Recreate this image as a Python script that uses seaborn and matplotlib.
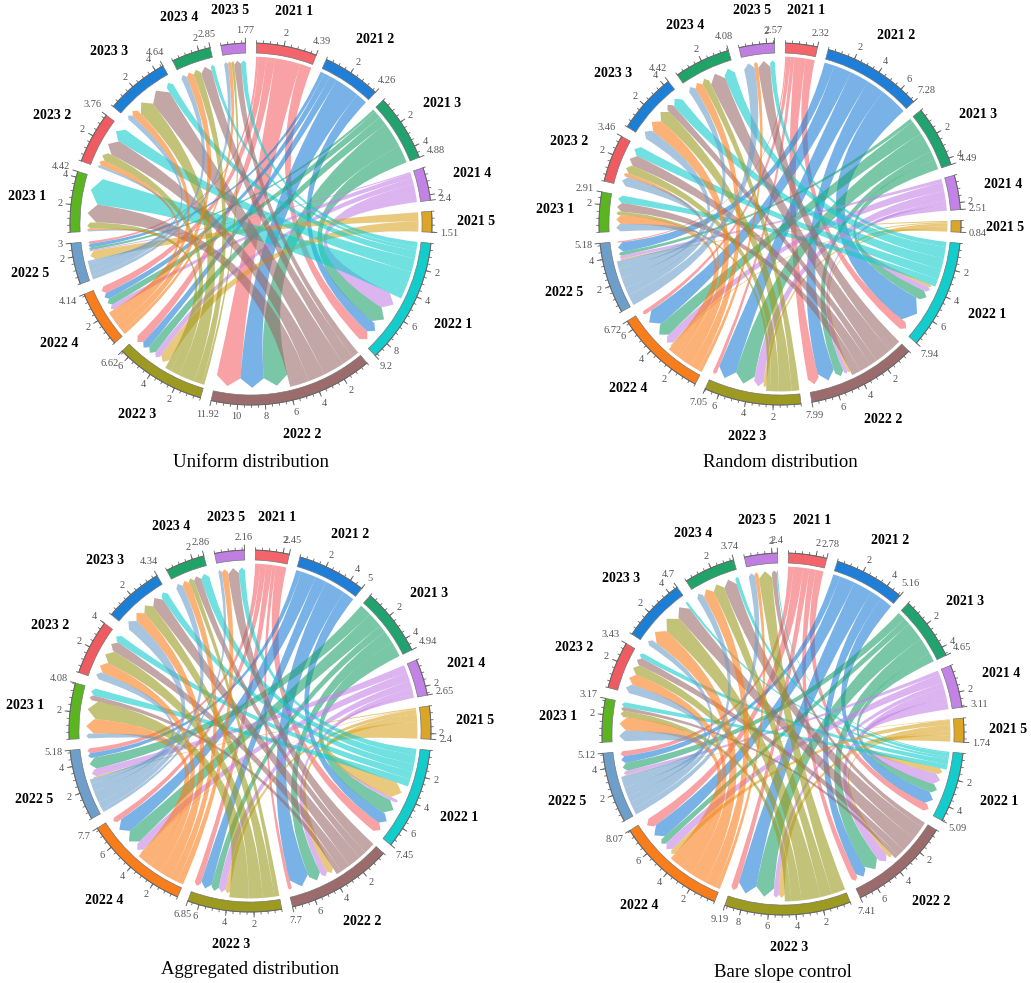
import numpy as np
import matplotlib
matplotlib.use("Agg")
import matplotlib.pyplot as plt
from matplotlib.path import Path
from matplotlib.patches import PathPatch, Wedge
import seaborn as sns

# ---------------- data ----------------
sector_names = ["2021 1", "2021 2", "2021 3", "2021 4", "2021 5",
                "2022 1", "2022 2", "2022 3", "2022 4", "2022 5",
                "2023 1", "2023 2", "2023 3", "2023 4", "2023 5"]

panel_titles = ["Uniform distribution", "Random distribution",
                "Aggregated distribution", "Bare slope control"]

# rows: 2021 class 1..5, cols: 2022 class 1..5
uniform_2021_to_2022 = [[0.9, 2.0, 0.7, 0.6, 0.19],
                        [0.9, 1.96, 0.6, 0.5, 0.3],
                        [1.4, 2.0, 0.7, 0.57, 0.21],
                        [1.4, 0.0, 0.5, 0.4, 0.1],
                        [0.0, 0.0, 0.81, 0.0, 0.7]]
# rows: 2022 class 1..5, cols: 2023 class 1..5
uniform_2022_to_2023 = [[2.2, 1.1, 0.6, 0.3, 0.4],
                        [1.5, 1.3, 1.7, 0.9, 0.56],
                        [0.5, 0.7, 1.3, 0.6, 0.21],
                        [0.12, 0.46, 0.6, 0.6, 0.29],
                        [0.1, 0.2, 0.44, 0.45, 0.31]]

random_2021_to_2022 = [[0.7, 0.9, 0.3, 0.32, 0.1],
                       [2.2, 1.4, 1.5, 1.4, 0.78],
                       [0.8, 0.69, 1.61, 1.1, 0.29],
                       [0.44, 0.3, 0.8, 0.7, 0.27],
                       [0.2, 0.2, 0.24, 0.1, 0.1]]
random_2022_to_2023 = [[0.6, 0.8, 0.9, 0.9, 0.4],
                       [0.7, 0.9, 0.6, 1.3, 1.0],
                       [0.3, 0.7, 1.0, 0.6, 0.0],
                       [0.7, 0.3, 1.1, 0.7, 0.3],
                       [0.61, 0.76, 0.82, 0.58, 0.87]]

aggregated_2021_to_2022 = [[0.8, 0.3, 0.5, 0.45, 0.4],
                           [0.9, 1.6, 0.9, 1.2, 0.4],
                           [1.2, 1.0, 0.6, 1.2, 0.94],
                           [0.25, 0.5, 0.6, 0.7, 0.6],
                           [1.3, 0.6, 0.35, 0.05, 0.1]]
aggregated_2022_to_2023 = [[0.6, 0.6, 0.6, 0.7, 0.5],
                           [0.4, 0.8, 1.0, 0.6, 0.9],
                           [1.5, 1.1, 0.9, 0.4, 0.0],
                           [1.2, 0.9, 0.9, 0.6, 0.5],
                           [0.38, 0.6, 0.94, 0.56, 0.26]]

bare_2021_to_2022 = [[0.6, 0.5, 0.5, 0.77, 0.41],
                     [1.0, 0.9, 1.5, 1.2, 0.56],
                     [0.7, 1.3, 1.5, 0.5, 0.65],
                     [0.9, 0.8, 0.4, 0.7, 0.31],
                     [0.49, 0.31, 0.49, 0.4, 0.05]]
bare_2022_to_2023 = [[0.4, 0.4, 0.2, 0.3, 0.1],
                     [0.3, 0.6, 1.2, 1.1, 0.4],
                     [0.5, 0.8, 1.5, 0.9, 1.1],
                     [1.1, 0.9, 1.3, 0.9, 0.3],
                     [0.87, 0.73, 0.5, 0.54, 0.5]]

# ---------------- style ----------------
sector_colors = ["#F4646A", "#1F7FD8", "#21A36F", "#C383E6", "#DBA626",
                 "#13CCCC", "#9C6B6B", "#9C9A20", "#FA7D1C", "#6E9FCB",
                 "#5AB521", "#EF5B60", "#1A7FD5", "#1FA366", "#C07EE3"]

sns.set_theme(style="white")
plt.rcParams['font.family'] = ['Liberation Serif', 'DejaVu Serif']

GAP = 3.5
R_OUT, R_IN = 1.0, 0.945
R_LINK, R_TIP = 0.925, 0.905
ALPHA = 0.6


def pol(r, deg):
    t = np.radians(deg)
    return (r * np.cos(t), r * np.sin(t))


def ribbon(ax, s_a1, s_a2, t_a1, t_a2, color):
    verts, codes = [], []
    arc = np.linspace(s_a1, s_a2, 30)
    for k, a in enumerate(arc):
        verts.append(pol(R_LINK, a))
        codes.append(Path.MOVETO if k == 0 else Path.LINETO)
    width = R_TIP * np.radians(abs(t_a1 - t_a2))
    depth = min(0.05, 0.5 * width)
    r_base = R_TIP - depth
    verts += [(0.0, 0.0), pol(r_base, t_a1)]
    codes += [Path.CURVE3, Path.CURVE3]
    verts += [pol(R_TIP, (t_a1 + t_a2) / 2.0), pol(r_base, t_a2)]
    codes += [Path.LINETO, Path.LINETO]
    verts += [(0.0, 0.0), pol(R_LINK, s_a1)]
    codes += [Path.CURVE3, Path.CURVE3]
    verts.append(pol(R_LINK, s_a1))
    codes.append(Path.CLOSEPOLY)
    ax.add_patch(PathPatch(Path(verts, codes), facecolor=color,
                           edgecolor='none', alpha=ALPHA, zorder=2))


def fmt(v):
    return f"{v:.2f}".rstrip('0').rstrip('.')


def label_pos(base, deg, hw, hh):
    t = np.radians(deg)
    r = base + hw * abs(np.cos(t)) + hh * abs(np.sin(t))
    return pol(r, deg)


def draw_panel(ax, m1, m2, title):
    m1 = np.asarray(m1, float)
    m2 = np.asarray(m2, float)
    totals = np.concatenate([m1.sum(1), m1.sum(0) + m2.sum(1), m2.sum(0)])
    dpu = (360.0 - 15 * GAP) / totals.sum()
    starts = []
    a = 90.0 - GAP / 2
    for t in totals:
        starts.append(a)
        a -= t * dpu + GAP

    def ang(i, u):
        return starts[i] - u * dpu

    cursor = np.zeros(15)
    src_span = {}
    for i in range(5):
        for j in range(4, -1, -1):
            v = m1[i, j]
            if v > 0:
                src_span[(i, 5 + j)] = (cursor[i], cursor[i] + v)
                cursor[i] += v
    for j in range(5):
        s = 5 + j
        for k in range(4, -1, -1):
            v = m2[j, k]
            if v > 0:
                src_span[(s, 10 + k)] = (cursor[s], cursor[s] + v)
                cursor[s] += v
    tgt_span = {}
    for j in range(5):
        t = 5 + j
        for i in range(4, -1, -1):
            v = m1[i, j]
            if v > 0:
                tgt_span[(i, t)] = (cursor[t], cursor[t] + v)
                cursor[t] += v
    for k in range(5):
        t = 10 + k
        for j in range(4, -1, -1):
            v = m2[j, k]
            if v > 0:
                tgt_span[(5 + j, t)] = (cursor[t], cursor[t] + v)
                cursor[t] += v

    for (s, t), (su0, su1) in src_span.items():
        tu0, tu1 = tgt_span[(s, t)]
        ribbon(ax, ang(s, su0), ang(s, su1), ang(t, tu0), ang(t, tu1),
               sector_colors[s])

    for i, tot in enumerate(totals):
        a0, a1 = starts[i], ang(i, tot)
        ax.add_patch(Wedge((0, 0), R_OUT, a1, a0, width=R_OUT - R_IN,
                           facecolor=sector_colors[i], edgecolor='#777777',
                           lw=0.5, zorder=3))
        arc = np.linspace(a0, a1, 60)
        ax.plot(R_OUT * np.cos(np.radians(arc)), R_OUT * np.sin(np.radians(arc)),
                color='#666666', lw=0.7, zorder=4)
        for v in np.arange(0, tot + 1e-9, 0.5):
            p0, p1 = pol(R_OUT, ang(i, v)), pol(R_OUT + 0.014, ang(i, v))
            ax.plot([p0[0], p1[0]], [p0[1], p1[1]], color='#666666', lw=0.6, zorder=4)
        majors = [v for v in np.arange(2, tot + 1e-9, 2) if abs(tot - v) >= 0.395]
        ticks = [(v, fmt(v)) for v in majors] + [(tot, fmt(tot))]
        for v, lab in ticks:
            p0, p1 = pol(R_OUT, ang(i, v)), pol(R_OUT + 0.028, ang(i, v))
            ax.plot([p0[0], p1[0]], [p0[1], p1[1]], color='#666666', lw=0.7, zorder=4)
            px, py = label_pos(1.045, ang(i, v), 0.012 * len(lab), 0.022)
            ax.text(px, py, lab, fontsize=7.5, color='#555555',
                    ha='center', va='center')
        mid = (a0 + a1) / 2.0
        nx, ny = label_pos(1.14, mid, 0.105, 0.035)
        ax.text(nx, ny, sector_names[i], fontsize=10, fontweight='bold',
                color='black', ha='center', va='center')

    ax.text(0, -1.32, title, fontsize=13.5, ha='center', va='center',
            color='black')
    lim = 1.42
    ax.set_xlim(-lim, lim)
    ax.set_ylim(-lim, lim)
    ax.set_aspect('equal')
    ax.set_axis_off()


W, H = 1031, 983
fig = plt.figure(figsize=(W / 100, H / 100), dpi=100)
fig.patch.set_facecolor('white')
R_PX = 181
half = 1.42 * R_PX
centers = [(251, 224), (780, 224), (250, 731), (783, 734)]
panels = [(uniform_2021_to_2022, uniform_2022_to_2023),
          (random_2021_to_2022, random_2022_to_2023),
          (aggregated_2021_to_2022, aggregated_2022_to_2023),
          (bare_2021_to_2022, bare_2022_to_2023)]
for (cx, cy), (m1, m2), title in zip(centers, panels, panel_titles):
    ax = fig.add_axes([(cx - half) / W, (H - cy - half) / H, 2 * half / W, 2 * half / H])
    draw_panel(ax, m1, m2, title)

fig.savefig("out.png", dpi=100, facecolor='white')
